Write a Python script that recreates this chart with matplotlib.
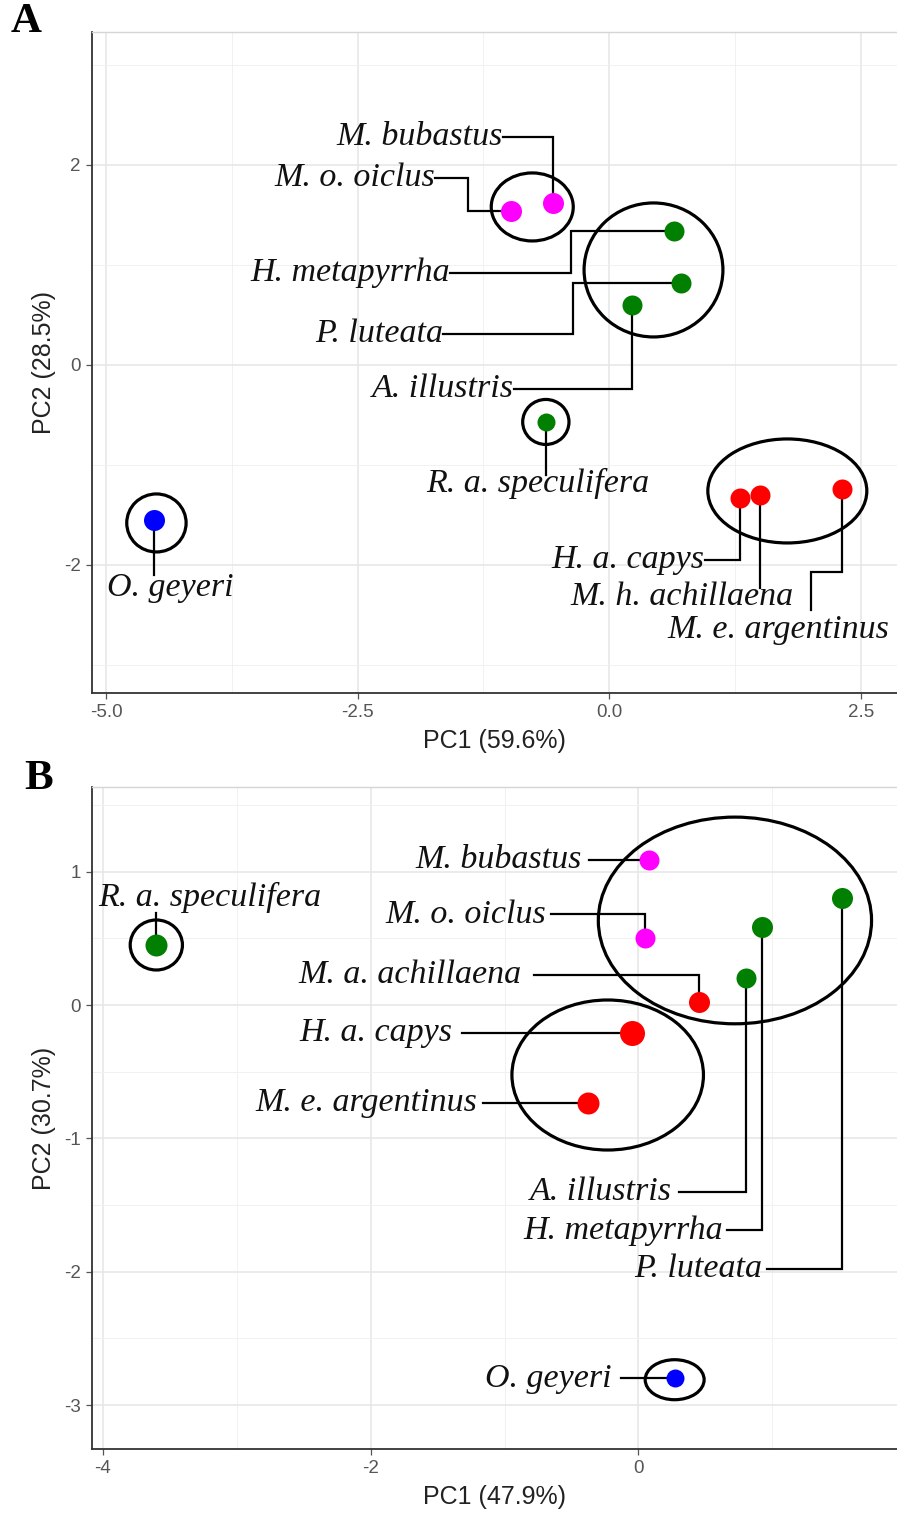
import matplotlib
matplotlib.use("Agg")
import matplotlib.pyplot as plt
from matplotlib.patches import Ellipse

# PCA scores, panel A
species_a = ["M. bubastus", "M. o. oiclus", "H. metapyrrha", "P. luteata", "A. illustris",
             "R. a. speculifera", "O. geyeri", "H. a. capys", "M. h. achillaena", "M. e. argentinus"]
pc1_a = [-0.56, -0.98, 0.64, 0.71, 0.23, -0.63, -4.52, 1.30, 1.50, 2.31]
pc2_a = [1.62, 1.54, 1.34, 0.82, 0.60, -0.57, -1.55, -1.33, -1.30, -1.24]
group_a = ["pink", "pink", "green", "green", "green", "green", "blue", "red", "red", "red"]

# cluster ellipses, panel A (centre x, centre y, width, height)
ell_a_x = [-0.765, 0.44, -0.63, 1.77, -4.50]
ell_a_y = [1.58, 0.95, -0.57, -1.26, -1.58]
ell_a_w = [0.815, 1.38, 0.46, 1.58, 0.59]
ell_a_h = [0.68, 1.34, 0.45, 1.04, 0.58]

# PCA scores, panel B
species_b = ["R. a. speculifera", "M. bubastus", "M. o. oiclus", "M. a. achillaena", "H. a. capys",
             "M. e. argentinus", "A. illustris", "H. metapyrrha", "P. luteata", "O. geyeri"]
pc1_b = [-3.60, 0.08, 0.045, 0.45, -0.045, -0.38, 0.80, 0.925, 1.52, 0.27]
pc2_b = [0.45, 1.09, 0.50, 0.02, -0.21, -0.735, 0.20, 0.585, 0.80, -2.80]
group_b = ["green", "pink", "pink", "red", "red", "red", "green", "green", "green", "blue"]

ell_b_x = [0.72, -0.23, -3.60, 0.27]
ell_b_y = [0.634, -0.525, 0.45, -2.81]
ell_b_w = [2.04, 1.43, 0.39, 0.44]
ell_b_h = [1.55, 1.125, 0.375, 0.30]

colours = {"pink": "#ff00ff", "green": "#007f00", "red": "#ff0000", "blue": "#0000ff"}

# dot diameters in pixels
dot_a = [21, 21, 20, 20, 20, 18, 21, 20, 20, 20]
dot_b = [22, 20, 20, 21, 25, 22, 20, 21, 21, 18]

# label placement: text x, text y, alignment, connector vertices before the point
labels_a = [
    (-1.06, 2.28, "right", [(-1.06, 2.28), (-0.56, 2.28)]),
    (-1.73, 1.87, "right", [(-1.73, 1.87), (-1.40, 1.87), (-1.40, 1.54)]),
    (-1.58, 0.92, "right", [(-1.58, 0.92), (-0.38, 0.92), (-0.38, 1.34)]),
    (-1.65, 0.31, "right", [(-1.65, 0.31), (-0.36, 0.31), (-0.36, 0.82)]),
    (-0.95, -0.24, "right", [(-0.95, -0.24), (0.23, -0.24)]),
    (-0.71, -1.19, "center", [(-0.63, -1.10)]),
    (-4.36, -2.23, "center", [(-4.52, -2.10)]),
    (0.95, -1.95, "right", [(0.95, -1.95), (1.30, -1.95)]),
    (1.83, -2.32, "right", [(1.50, -2.23)]),
    (2.78, -2.65, "right", [(2.01, -2.45), (2.01, -2.07), (2.31, -2.07)]),
]
labels_b = [
    (-3.20, 0.81, "center", [(-3.60, 0.69)]),
    (-0.42, 1.09, "right", [(-0.37, 1.09)]),
    (-0.69, 0.68, "right", [(-0.65, 0.68), (0.045, 0.68)]),
    (-0.87, 0.225, "right", [(-0.78, 0.225), (0.45, 0.225)]),
    (-1.39, -0.21, "right", [(-1.32, -0.21)]),
    (-1.20, -0.735, "right", [(-1.16, -0.735)]),
    (0.25, -1.40, "right", [(0.30, -1.40), (0.80, -1.40)]),
    (0.63, -1.69, "right", [(0.66, -1.69), (0.925, -1.69)]),
    (0.925, -1.98, "right", [(0.96, -1.98), (1.52, -1.98)]),
    (-0.20, -2.80, "right", [(-0.127, -2.80)]),
]


def style_axes(ax, xlim, ylim, xticks, xticklabels, yticks, xminor, yminor, xlabel, ylabel):
    ax.set_xlim(*xlim)
    ax.set_ylim(*ylim)
    ax.set_xticks(xticks)
    ax.set_xticklabels(xticklabels)
    ax.set_yticks(yticks)
    ax.set_xticks(xminor, minor=True)
    ax.set_yticks(yminor, minor=True)
    ax.grid(which="major", color="#e6e6e6", lw=1.1, zorder=0)
    ax.grid(which="minor", color="#f1f1f1", lw=0.7, zorder=0)
    ax.set_axisbelow(True)
    ax.tick_params(which="major", length=4, width=0.9, color="#555555",
                   labelsize=13.5, labelcolor="#555555", pad=4)
    ax.tick_params(which="minor", length=0)
    ax.spines["right"].set_visible(False)
    ax.spines["top"].set_color("#d5d5d5")
    ax.spines["top"].set_linewidth(1.0)
    for side in ("left", "bottom"):
        ax.spines[side].set_color("#333333")
        ax.spines[side].set_linewidth(1.3)
    ax.set_xlabel(xlabel, fontsize=18, color="#222222", labelpad=6)
    ax.set_ylabel(ylabel, fontsize=18, color="#222222", labelpad=6)


def draw_panel(ax, names, xs, ys, groups, dots, labels, ex, ey, ew, eh):
    for cx, cy, w, h in zip(ex, ey, ew, eh):
        ax.add_patch(Ellipse((cx, cy), w, h, fill=False, ec="black", lw=2.3, zorder=3))
    for name, x, y, (tx, ty, ha, path) in zip(names, xs, ys, labels):
        pts = path + [(x, y)]
        ax.plot([p[0] for p in pts], [p[1] for p in pts], color="black", lw=1.6,
                solid_joinstyle="miter", zorder=2)
        ax.text(tx, ty, name, ha=ha, va="center", fontsize=24.5, style="italic",
                family="Liberation Serif", color="#111111", zorder=5)
    for x, y, g, d in zip(xs, ys, groups, dots):
        ax.plot(x, y, "o", ms=d * 0.72, color=colours[g], mec="none", zorder=4)


def pca_plot():
    plt.rcParams["font.family"] = ["Liberation Sans", "DejaVu Sans"]
    plt.rcParams["axes.unicode_minus"] = False
    fig = plt.figure(figsize=(8.97, 15.14), dpi=100)

    ax_a = fig.add_axes([0.1026, 0.5423, 0.8974, 0.4366])
    style_axes(ax_a, (-5.14, 2.86), (-3.28, 3.33), [-5, -2.5, 0, 2.5],
               ["-5.0", "-2.5", "0.0", "2.5"], [-2, 0, 2],
               [-3.75, -1.25, 1.25], [-3, -1, 1, 3], "PC1 (59.6%)", "PC2 (28.5%)")
    draw_panel(ax_a, species_a, pc1_a, pc2_a, group_a, dot_a, labels_a,
               ell_a_x, ell_a_y, ell_a_w, ell_a_h)

    ax_b = fig.add_axes([0.1026, 0.0429, 0.8974, 0.4373])
    style_axes(ax_b, (-4.08, 1.93), (-3.33, 1.635), [-4, -2, 0],
               ["-4", "-2", "0"], [-3, -2, -1, 0, 1],
               [-3, -1, 1], [-2.5, -1.5, -0.5, 0.5, 1.5], "PC1 (47.9%)", "PC2 (30.7%)")
    draw_panel(ax_b, species_b, pc1_b, pc2_b, group_b, dot_b, labels_b,
               ell_b_x, ell_b_y, ell_b_w, ell_b_h)

    fig.text(11 / 897, 1 - 22 / 1514, "A", fontsize=31, weight="bold",
             family="Liberation Serif", va="center", ha="left")
    fig.text(24 / 897, 1 - 779 / 1514, "B", fontsize=31, weight="bold",
             family="Liberation Serif", va="center", ha="left")

    fig.savefig("out.png", dpi=100)


if __name__ == '__main__':
    pca_plot()
